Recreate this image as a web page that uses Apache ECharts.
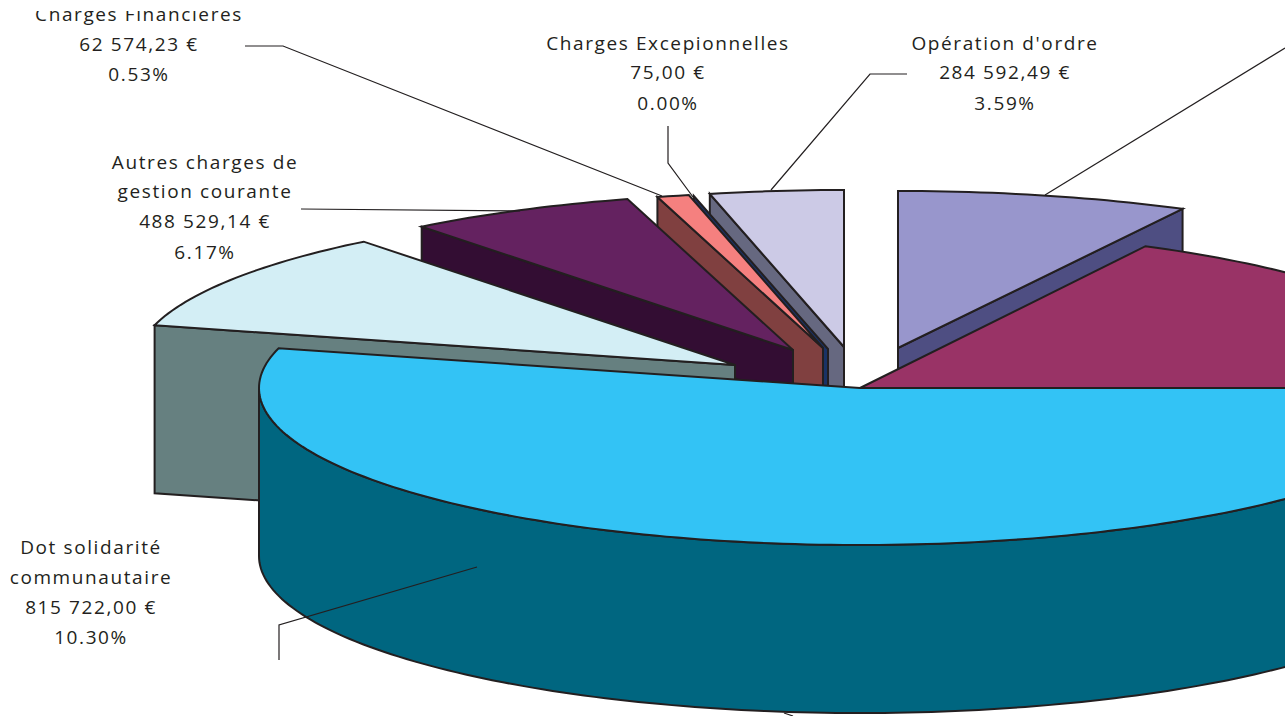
<!DOCTYPE html>
<html><head><meta charset="utf-8">
<style>
html,body{margin:0;padding:0;background:#fff}
#chart{position:absolute;left:0;top:0;width:1285px;height:716px;clip-path:inset(11px 0 0 0)}
#chart text{letter-spacing:1.6px}
</style>
<script src="https://cdn.jsdelivr.net/npm/echarts@6/dist/echarts.min.js"></script>
</head><body><div id="chart"></div>
<script>
// slices clockwise from 12 o'clock, share of the full turn in percent
var sliceNames=['Bleu haut','Bordeaux','Bleu vif','Bleu pale','Autres charges de gestion courante','Charges Financières','Charges Exceptionnelles',"Opération d'ordre"];
var sliceShares=[7.67,17.33,54.08,10.30,6.17,0.86,0.00,3.59];
// labels
var labelLines=[
 ['Charges Financières','62 574,23 €','0.53%'],
 ['Charges Excepionnelles','75,00 €','0.00%'],
 ["Opération d'ordre",'284 592,49 €','3.59%'],
 ['Autres charges de','gestion courante','488 529,14 €','6.17%'],
 ['Dot solidarité','communautaire','815 722,00 €','10.30%']
];
// styles
var topColors=['#9896CC','#993366','#33C3F5','#D3EEF5','#642260','#F5807F','#1A3366','#CCCAE6'];
var wallColors=['#4E4E82','#993366','#006680','#668080','#330D33','#804040','#1A3366','#666880'];
// layout: exploded apex of each slice, ellipse radii, wall kind and depth (at rim, at apex)
var apexX=[898,860,860,735,793,823,828,844];
var apexY=[348,388,388,365,350,348,349,347];
var radX=[614,616,601,600,600,600,600,600];
var radY=[157,160,157,157,157,157,157,157];
var wallKind=['end','none','arc','start','start','start','start','start'];
var wallRim=[50,0,168,168,35,178,189,193];
var wallApex=[40,0,168,168,50,39,38,40];
var drawOrder=[0,7,6,5,4,3,1,2];
var labelX=[139,668,1005,205,91];
var labelY=[[13.5,43.5,73.5],[42.5,71.5,102.5],[42.5,71.5,102.5],[161.5,190.5,220.5,251.5],[546.5,576.5,606.5,636.5]];
var leaders=[
 [[245,46],[283,46],[662,196]],
 [[668,126],[668,163],[693,197]],
 [[907,74],[870,74],[771,190]],
 [[1285,48],[1045,195]],
 [[301,209],[520,211]],
 [[279,660],[279,625],[477,567]],
 [[784,713],[793,716]]
];
var INK='#231F20';
var total=sliceShares.reduce(function(a,b){return a+b},0);
var cum=[0];sliceShares.forEach(function(v,i){cum.push(cum[i]+v)});
function ang(i){return cum[i]/total*2*Math.PI}
function pt(i,t,dy){return [apexX[i]+radX[i]*Math.sin(t),apexY[i]-radY[i]*Math.cos(t)+(dy||0)]}
function arc(i,a,b,dy){var n=Math.max(2,Math.ceil(Math.abs(b-a)/0.02)),p=[];for(var k=0;k<=n;k++)p.push(pt(i,a+(b-a)*k/n,dy));return p}
function poly(points,fill){return {type:'polygon',shape:{points:points},style:{fill:fill,stroke:INK,lineWidth:2,lineJoin:'miter'}}}
function renderSlice(params,api){
 var i=api.value(0),a=ang(i),b=ang(i+1),kids=[],ax=apexX[i],ay=apexY[i];
 if(wallKind[i]==='arc'){
  var hi=Math.min(b,1.5*Math.PI);
  kids.push(poly(arc(i,a,hi,0).concat(arc(i,hi,a,wallRim[i])),wallColors[i]));
 }else if(wallKind[i]!=='none'){
  var e=wallKind[i]==='start'?a:b,r=pt(i,e);
  kids.push(poly([[ax,ay],r,[r[0],r[1]+wallRim[i]],[ax,ay+wallApex[i]]],wallColors[i]));
 }
 if(b>a)kids.push(poly([[ax,ay]].concat(arc(i,a,b,0)),topColors[i]));
 return {type:'group',children:kids};
}
var els=[];
leaders.forEach(function(p){els.push({type:'polyline',z:10,silent:true,shape:{points:p},style:{fill:null,stroke:INK,lineWidth:1.2}})});
labelLines.forEach(function(lines,i){lines.forEach(function(s,j){
 els.push({type:'text',z:11,silent:true,x:labelX[i],y:labelY[i][j],style:{text:s,fill:INK,font:'19px "Open Sans"',textAlign:'center',textVerticalAlign:'middle'}});
})});
var chart=echarts.init(document.getElementById('chart'),null,{renderer:'svg'});
chart.setOption({
 animation:false,
 graphic:{elements:els},
 series:[{type:'custom',coordinateSystem:'none',silent:true,renderItem:renderSlice,clip:false,
  data:drawOrder.map(function(i){return {value:[i],name:sliceNames[i]}})}]
});
</script></body></html>
